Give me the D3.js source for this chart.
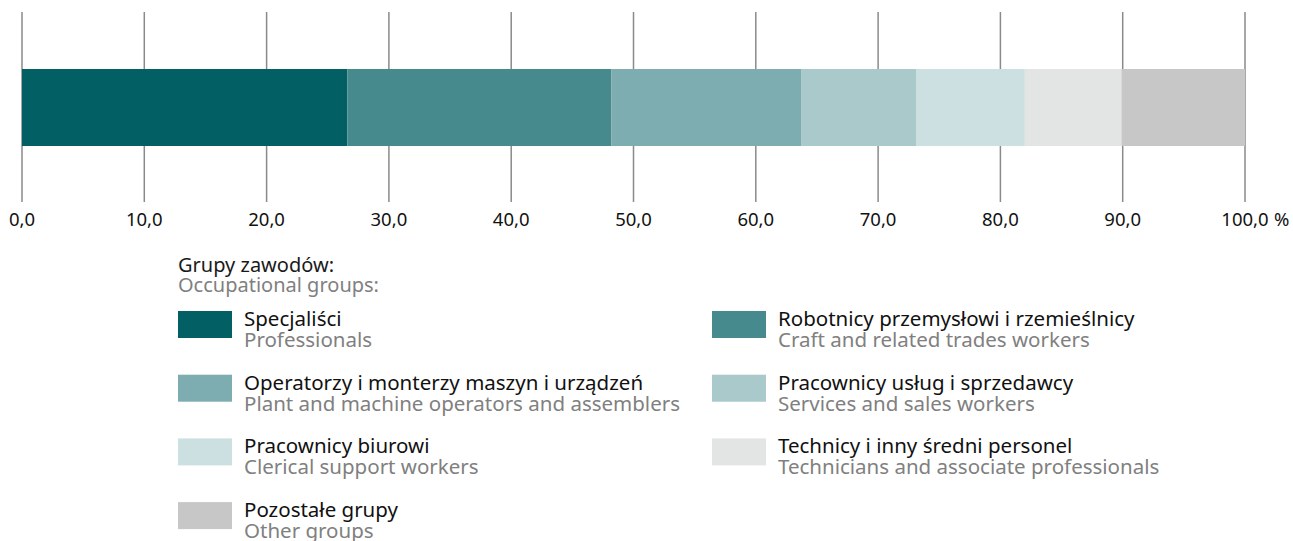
<!DOCTYPE html>
<html>
<head>
<meta charset="utf-8">
<script src="https://cdn.jsdelivr.net/npm/d3@7"></script>
<style>
  body { margin: 0; background: #fff; }
  svg { display: block; font-family: "Noto Sans", sans-serif; }
</style>
</head>
<body>
<div id="chart"></div>
<script>
const groupsPl = ["Specjaliści", "Robotnicy przemysłowi i rzemieślnicy", "Operatorzy i monterzy maszyn i urządzeń",
  "Pracownicy usług i sprzedawcy", "Pracownicy biurowi", "Technicy i inny średni personel", "Pozostałe grupy"];
const groupsEn = ["Professionals", "Craft and related trades workers", "Plant and machine operators and assemblers",
  "Services and sales workers", "Clerical support workers", "Technicians and associate professionals", "Other groups"];
const shares = [26.6, 21.6, 15.5, 9.4, 8.9, 7.9, 10.1];
const colors = ["#025f63", "#468a8d", "#7dadb0", "#a9c9ca", "#cce0e2", "#e3e5e4", "#c7c7c7"];
const tickValues = [0, 10, 20, 30, 40, 50, 60, 70, 80, 90, 100];

const width = 1293, height = 541;
const svg = d3.select("#chart").append("svg")
  .attr("width", width)
  .attr("height", height);

const x = d3.scaleLinear().domain([0, 100]).range([22, 1245]);

// grid lines
svg.append("g")
  .selectAll("line")
  .data(tickValues)
  .enter().append("line")
  .attr("x1", d => x(d)).attr("x2", d => x(d))
  .attr("y1", 12).attr("y2", 202)
  .attr("stroke", "#8a8a8a")
  .attr("stroke-width", 1.5);

// stacked bar
let acc = 0;
const segs = shares.map((v, i) => {
  const s = { start: acc, end: acc + v, color: colors[i] };
  acc += v;
  return s;
});
svg.append("g")
  .selectAll("rect")
  .data(segs)
  .enter().append("rect")
  .attr("x", d => x(d.start))
  .attr("width", d => x(d.end) - x(d.start))
  .attr("y", 69)
  .attr("height", 77)
  .attr("fill", d => d.color);

// tick labels
const fmt = d => d3.format(".1f")(d).replace(".", ",");
const labels = svg.append("g")
  .attr("font-size", 18.5)
  .attr("fill", "#111");
labels.selectAll("text")
  .data(tickValues)
  .enter().append("text")
  .attr("x", d => x(d))
  .attr("y", 226)
  .attr("text-anchor", "middle")
  .text(d => fmt(d));
labels.append("text")
  .attr("x", x(100) + 29)
  .attr("y", 226)
  .text("%");

// legend
const leg = svg.append("g").attr("font-size", 20);
leg.append("text").attr("x", 178).attr("y", 272).attr("fill", "#1a1a1a").text("Grupy zawodów:");
leg.append("text").attr("x", 178).attr("y", 292).attr("fill", "#808080").text("Occupational groups:");

const item = leg.selectAll("g.item")
  .data(shares.map((v, i) => i))
  .enter().append("g")
  .attr("class", "item")
  .attr("font-size", 20.5)
  .attr("transform", i => `translate(${i % 2 === 0 ? 178 : 712},${311 + Math.floor(i / 2) * 63.7})`);
item.append("rect")
  .attr("width", 54)
  .attr("height", 27)
  .attr("fill", i => colors[i]);
item.append("text")
  .attr("x", 66)
  .attr("y", 15)
  .attr("fill", "#111")
  .text(i => groupsPl[i]);
item.append("text")
  .attr("x", 66)
  .attr("y", 36)
  .attr("fill", "#808080")
  .text(i => groupsEn[i]);
</script>
</body>
</html>
